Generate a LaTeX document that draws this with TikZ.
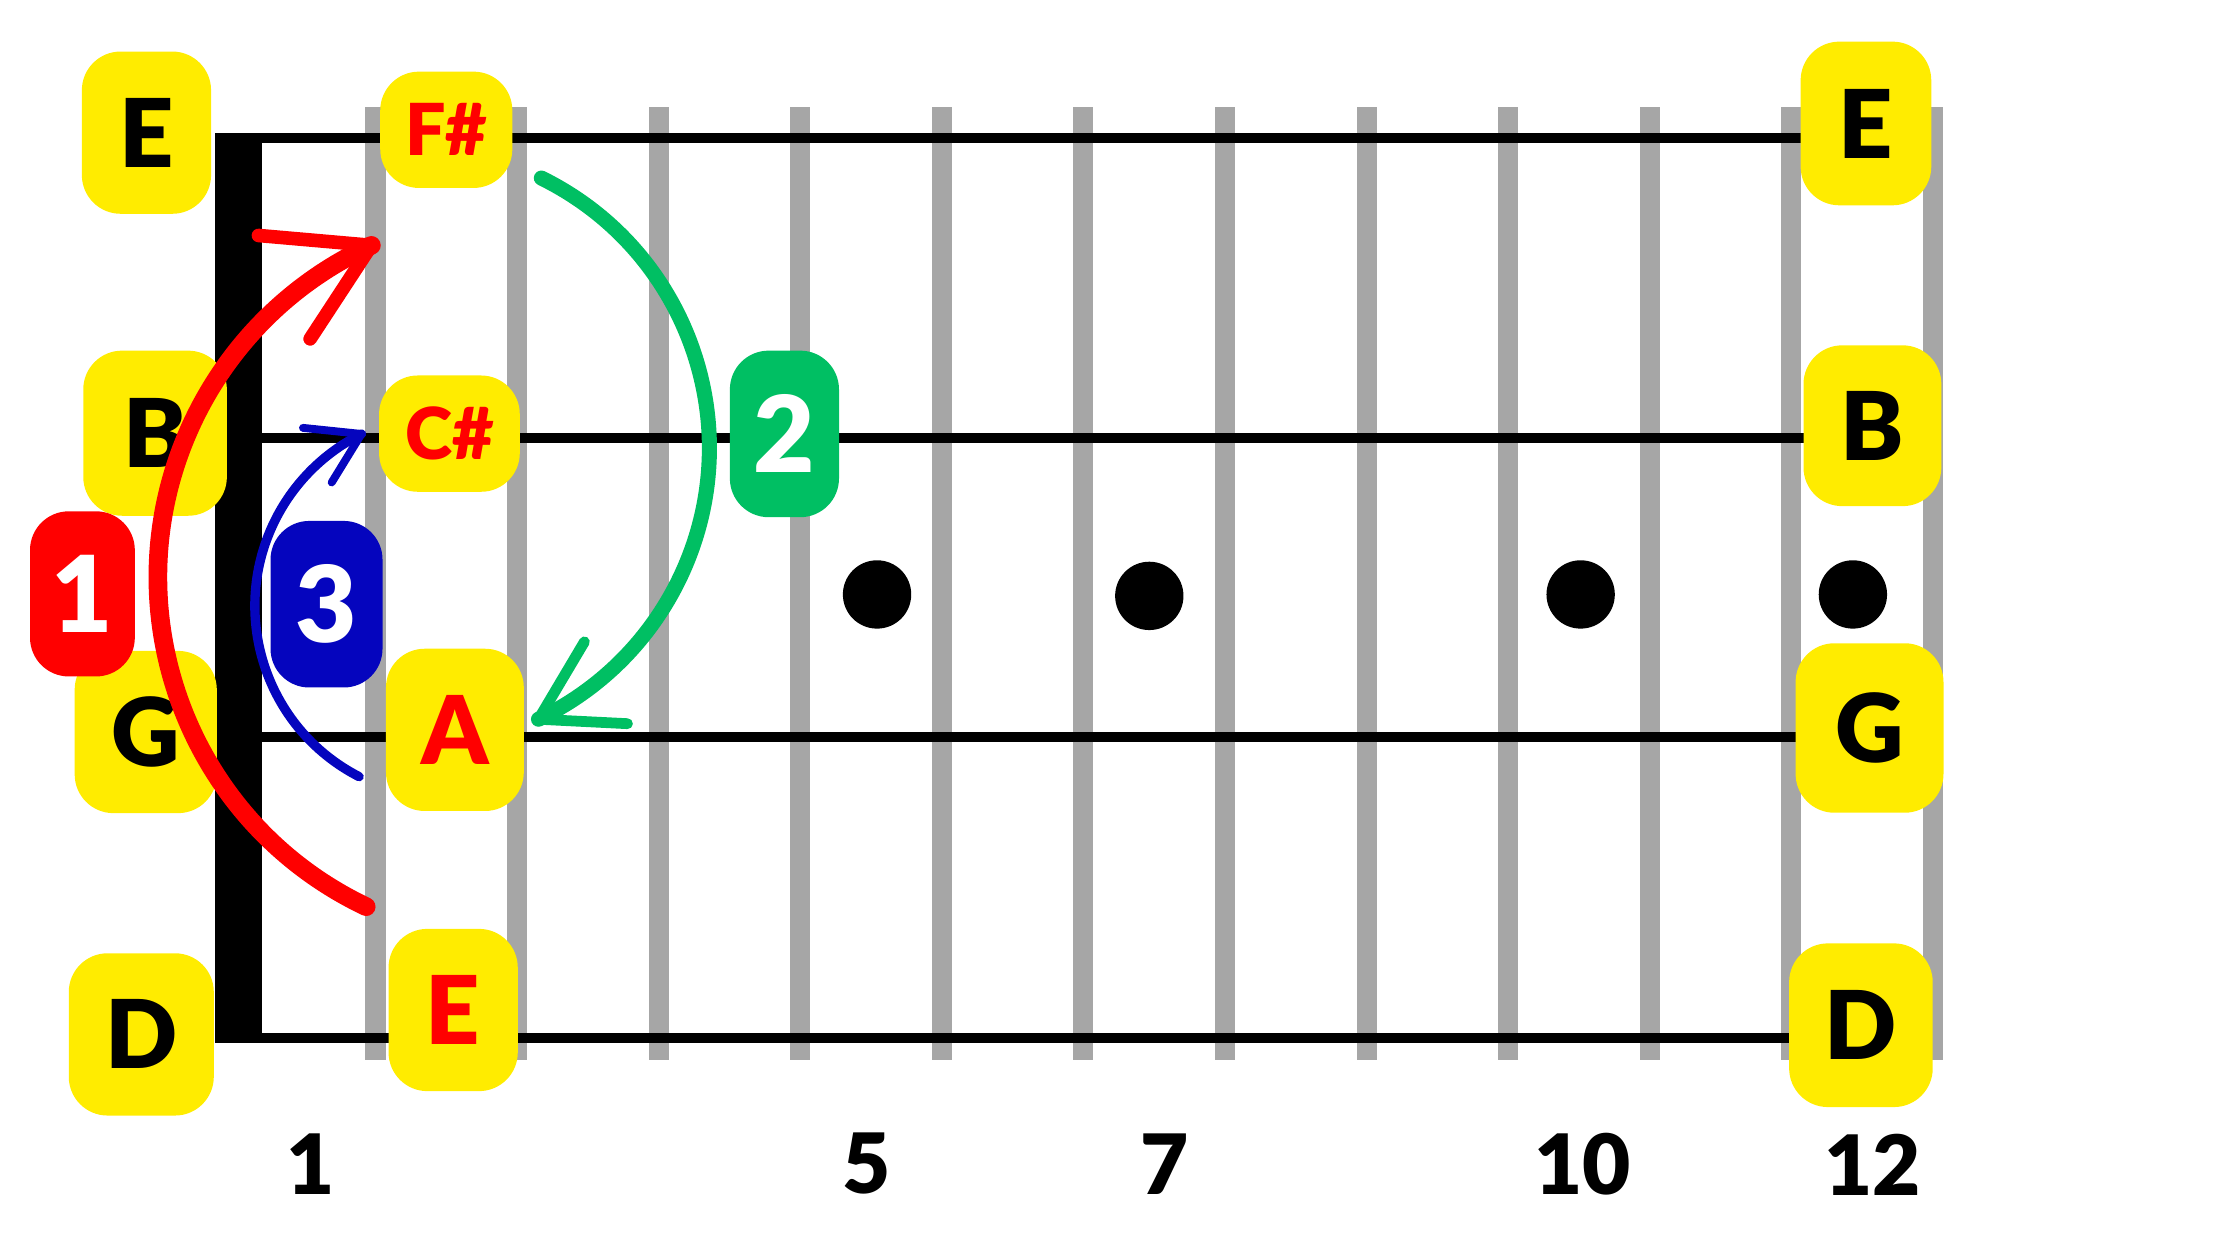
\documentclass[tikz,border=0pt]{standalone}
\usepackage{fontspec}
\setmainfont{Lato}[BoldFont={Lato Black}]
\usetikzlibrary{positioning}
\definecolor{noteyellow}{HTML}{FFEC00}
\definecolor{fretgray}{HTML}{A6A6A6}
\definecolor{arcgreen}{HTML}{00BF63}
\definecolor{arcblue}{HTML}{0505BE}

\begin{document}
\begin{tikzpicture}[x=0.1mm,y=-0.1mm,
    note/.style={fill=noteyellow,rounded corners=2.7mm,minimum width=9.6mm,minimum height=11.3mm,inner sep=0pt,font=\fontsize{18.8}{18.8}\selectfont\bfseries},
    sharpnote/.style={note,minimum height=8.1mm,text=red,font=\fontsize{14.2}{14.2}\selectfont\bfseries},
    badge/.style={rounded corners=2.7mm,minimum width=7.6mm,minimum height=11.6mm,inner sep=0pt,text=white,font=\fontsize{21}{21}\selectfont\bfseries},
    fretno/.style={font=\fontsize{16.5}{16.5}\selectfont\bfseries},
    bow/.style={line cap=round,line join=round}]
    \useasboundingbox (0,0) rectangle (1560,877.5);

    % frets, strings, nut
    \foreach \k in {0,...,11}
        \draw[fretgray,line width=1.4mm] ({261.5+98.6*\k},74.6) -- ({261.5+98.6*\k},738);
    \foreach \y in {96.2,304.8,513.4,722.6}
        \draw[line width=0.7mm] (150,\y) -- (1290,\y);
    \fill (149.6,93) rectangle (182.6,726);

    % inlay dots
    \fill (610.8,414) circle[radius=2.38mm];
    \fill (800.4,415) circle[radius=2.38mm];
    \fill (1100.8,414) circle[radius=2.38mm];
    \fill (1290.4,414) circle[radius=2.38mm];

    % open strings
    \node[note,minimum width=9mm] (openE) at (102,92.4) {E};
    \node[note,minimum width=10mm,minimum height=11.5mm] (openB) at (108,301.7) {B};
    \node[note,minimum width=9.9mm] (openG) at (101.5,509.8) {G};
    \node[note,minimum width=10.1mm] (openD) at (98.4,720.4) {D};

    % second fret
    \node[sharpnote,minimum width=9.2mm] (fsharp) at (310.8,90.4) {F\#};
    \node[sharpnote,minimum width=9.8mm] (csharp) at (313,302) {C\#};
    \node[note,text=red] (noteA) at (316.8,508.3) {A};
    \node[note,minimum width=9mm,text=red] (noteE) at (315.6,703.4) {E};

    % twelfth fret
    \node[note,minimum width=9.1mm,minimum height=11.4mm] (highE) at (1299.5,86) {E};
    \node[note,minimum height=11.2mm] (highB) at (1304,296.5) {B};
    \node[note,minimum width=10.3mm,minimum height=11.8mm] (highG) at (1302,507) {G};
    \node[note,minimum width=10mm,minimum height=11.4mm] (highD) at (1296,714) {D};

    % moves
    \coordinate (redfrom) at (255.05,631.45);
    \coordinate (redto) at (258.67,170.87);
    \draw[red,line width=1.3mm,bow] (redfrom) arc[start angle=115.4,end angle=245.5,radius=254];
    \draw[red,line width=0.95mm,bow] (180,164) -- (redto) -- (216,236);

    \coordinate (greenfrom) at (377,124);
    \coordinate (greento) at (375,500.9);
    \draw[arcgreen,line width=1.05mm,bow] (greenfrom) arc[start angle=-63.8,end angle=64.4,radius=209.5];
    \draw[arcgreen,line width=0.75mm,bow] (407,447) -- (greento) -- (437,504);

    \coordinate (bluefrom) at (250.1,540.9);
    \coordinate (blueto) at (251.75,302.24);
    \draw[arcblue,line width=0.65mm,bow] (bluefrom) arc[start angle=117.2,end angle=243.6,radius=133.7];
    \draw[arcblue,line width=0.55mm,bow] (211,298) -- (blueto) -- (231,336);

    % step badges
    \node[badge,fill=red,minimum width=7.3mm,minimum height=11.5mm] (stepone) at (57.4,413.6) {1};
    \node[badge,fill=arcgreen] (steptwo) at (546.3,302.2) {2};
    \node[badge,fill=arcblue,minimum width=7.8mm] (stepthree) at (227.4,420.8) {3};

    % fret numbers
    \node[fretno] (no1) at (216.6,811) {1};
    \node[fretno] (no5) at (603.8,810.6) {5};
    \node[fretno] (no7) at (810.8,810.8) {7};
    \node[fretno] (no10) at (1102,811) {10};
    \node[fretno] (no12) at (1304,811) {12};
\end{tikzpicture}
\end{document}
